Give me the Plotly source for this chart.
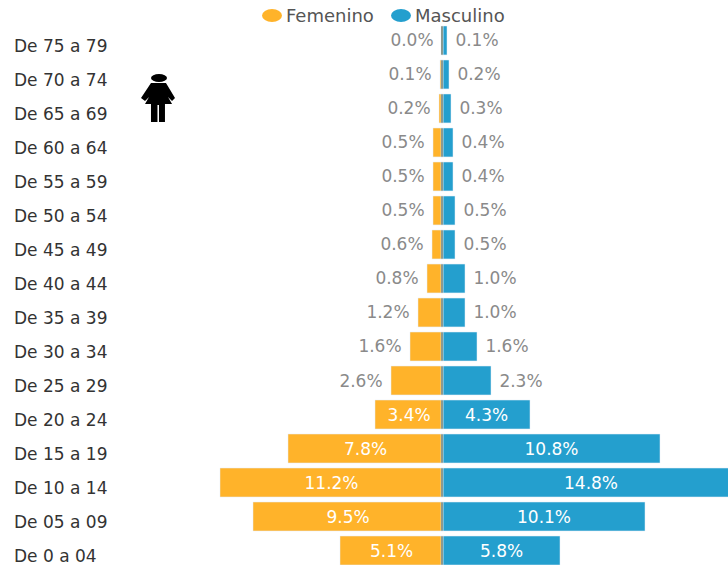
import plotly.graph_objects as go

ages = ["De 0 a 04","De 05 a 09","De 10 a 14","De 15 a 19","De 20 a 24","De 25 a 29","De 30 a 34","De 35 a 39",
        "De 40 a 44","De 45 a 49","De 50 a 54","De 55 a 59","De 60 a 64","De 65 a 69","De 70 a 74","De 75 a 79"]
fem_labels = ["5.1%","9.5%","11.2%","7.8%","3.4%","2.6%","1.6%","1.2%","0.8%","0.6%","0.5%","0.5%","0.5%","0.2%","0.1%","0.0%"]
masc_labels = ["5.8%","10.1%","14.8%","10.8%","4.3%","2.3%","1.6%","1.0%","1.0%","0.5%","0.5%","0.4%","0.4%","0.3%","0.2%","0.1%"]
fem_values = [5.15,9.5,11.15,7.75,3.4,2.6,1.65,1.25,0.8,0.55,0.5,0.5,0.5,0.2,0.15,0.05]
masc_values = [5.85,10.1,14.8,10.85,4.35,2.4,1.7,1.1,1.1,0.6,0.6,0.5,0.5,0.4,0.3,0.2]
series_names = ["Femenino", "Masculino"]
ORANGE, BLUE = "#FFB32A", "#249FCE"
FONT = "DejaVu Sans"

fig = go.Figure()

def positions(labels):
    return ["inside" if float(t[:-1]) >= 3 else "outside" for t in labels]

def texts(labels):
    return [t if float(t[:-1]) >= 3 else "\u00a0" + t + "\u00a0" for t in labels]

def colors(labels):
    return ["#FFFFFF" if float(t[:-1]) >= 3 else "#8A8A8A" for t in labels]

fig.add_bar(y=ages, x=[-v for v in fem_values], orientation="h", marker_color=ORANGE, name=series_names[0],
            text=texts(fem_labels), textposition=positions(fem_labels), insidetextanchor="middle",
            textangle=0, textfont=dict(family=FONT, size=17, color=colors(fem_labels)),
            constraintext="none", cliponaxis=True, showlegend=False)
fig.add_bar(y=ages, x=masc_values, orientation="h", marker_color=BLUE, name=series_names[1],
            text=texts(masc_labels), textposition=positions(masc_labels), insidetextanchor="middle",
            textangle=0, textfont=dict(family=FONT, size=17, color=colors(masc_labels)),
            constraintext="none", cliponaxis=True, showlegend=False)
fig.add_bar(y=ages, x=[0.1]*len(ages), base=-0.1, orientation="h", marker_color="#6F7F70",
            showlegend=False, hoverinfo="skip")

W, H = 728, 565
def px(x): return x / W
def py(y): return 1 - y / H

for age in ages:
    fig.add_annotation(x=0, xref="paper", y=age, yref="y", yshift=-5.5, text=age, showarrow=False,
                       xanchor="left", yanchor="middle", xshift=14, borderpad=0, borderwidth=0,
                       font=dict(family=FONT, size=17, color="#333333"))

# legend row
for name, col, cx, tx in zip(series_names, [ORANGE, BLUE], [272, 401], [286, 415]):
    fig.add_shape(type="circle", xref="paper", yref="paper", x0=px(cx-10), x1=px(cx+10),
                  y0=py(22), y1=py(9), fillcolor=col, line_width=0)
    fig.add_annotation(x=px(tx), xref="paper", y=py(15), yref="paper", text=name, showarrow=False,
                       xanchor="left", yanchor="middle", xshift=-2, font=dict(family=FONT, size=18, color="#555555"))

def path(pts):
    return "M " + " L ".join(f"{px(a):.4f},{py(b):.4f}" for a, b in pts) + " Z"

body = [(151,83),(166,83),(175,98),(172,101),(168,97),(172,104),(165,104),(165,122),(159,122),(159,105),
        (157.5,105),(157.5,122),(151,122),(151,104),(145,104),(149,97),(145,101),(141,98)]
fig.add_shape(type="path", xref="paper", yref="paper", path=path(body), fillcolor="#000000", line_width=0)
fig.add_shape(type="circle", xref="paper", yref="paper", x0=px(151), x1=px(167), y0=py(82), y1=py(74),
              fillcolor="#000000", line_width=0)

fig.update_layout(
    width=W, height=H, margin=dict(l=0, r=0, t=0, b=0), autosize=False,
    paper_bgcolor="white", plot_bgcolor="white", barmode="overlay", bargap=0.15,
    font=dict(family=FONT, size=16), showlegend=False,
    xaxis=dict(range=[-22.15, 14.25], visible=False, fixedrange=True),
    yaxis=dict(type="category", categoryorder="array", categoryarray=ages, range=[-0.426, 16.19],
               visible=False, fixedrange=True),
)
fig.write_html("out.html", config={"displayModeBar": False},
               post_script="document.body.style.margin='0';document.body.style.overflow='hidden';")
